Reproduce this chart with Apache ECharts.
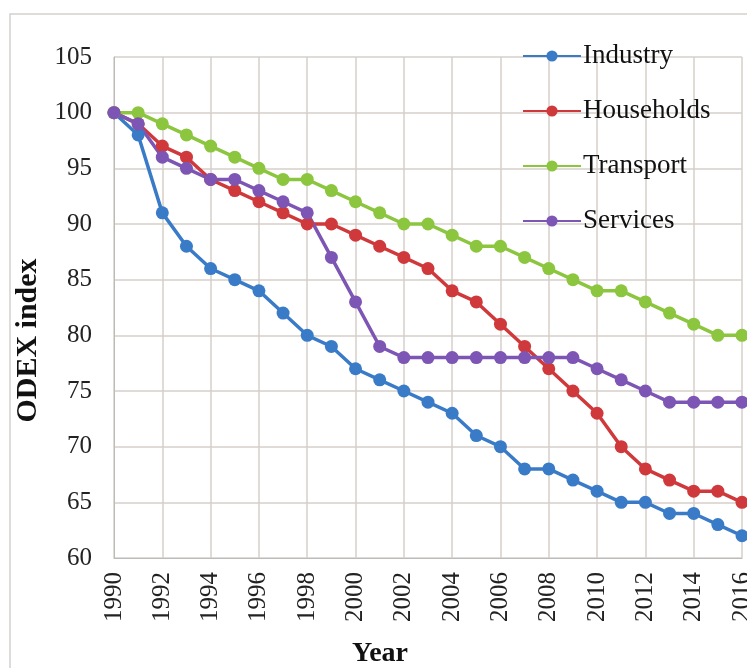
<!DOCTYPE html>
<html>
<head>
<meta charset="utf-8">
<script src="https://cdn.jsdelivr.net/npm/echarts@6/dist/echarts.min.js"></script>
<style>
  html, body { margin: 0; padding: 0; background: #fff; }
  #main { width: 747px; height: 668px; }
</style>
</head>
<body>
<div id="main"></div>
<script>
// years on the x axis
var years = ['1990','1991','1992','1993','1994','1995','1996','1997','1998','1999',
             '2000','2001','2002','2003','2004','2005','2006','2007','2008','2009',
             '2010','2011','2012','2013','2014','2015','2016'];

var industry   = [100,98,91,88,86,85,84,82,80,79,77,76,75,74,73,71,70,68,68,67,66,65,65,64,64,63,62];
var households = [100,99,97,96,94,93,92,91,90,90,89,88,87,86,84,83,81,79,77,75,73,70,68,67,66,66,65];
var transport  = [100,100,99,98,97,96,95,94,94,93,92,91,90,90,89,88,88,87,86,85,84,84,83,82,81,80,80];
var services   = [100,99,96,95,94,94,93,92,91,87,83,79,78,78,78,78,78,78,78,78,77,76,75,74,74,74,74];

var names  = ['Industry','Households','Transport','Services'];
var colors = ['#3A7BC8','#D0393C','#8CC63F','#7D55B5'];

var serif = '"Liberation Serif", "DejaVu Serif", serif';

var chart = echarts.init(document.getElementById('main'));

function mkSeries(name, data, col) {
    return {
        name: name,
        type: 'line',
        data: data,
        symbol: 'circle',
        symbolSize: 13,
        color: col,
        lineStyle: {width: 3.5, color: col},
        itemStyle: {color: col},
        animation: false
    };
}

var option = {
    backgroundColor: '#fff',
    graphic: [{
        type: 'rect', z: -1,
        shape: {x: 10, y: 14, width: 800, height: 700},
        style: {fill: 'none', stroke: '#d4d0cc', lineWidth: 1.5}
    }],
    legend: {
        orient: 'vertical',
        left: 517, top: 36,
        itemWidth: 58, itemHeight: 14,
        itemGap: 25,
        data: names,
        textStyle: {fontFamily: serif, fontSize: 27, color: '#111', lineHeight: 30, padding: [0,0,0,-3]}
    },
    grid: {left: 114, right: 5, top: 57, bottom: 110, outerBoundsMode: 'none'},
    xAxis: {
        type: 'category',
        data: years,
        boundaryGap: false,
        name: 'Year',
        nameLocation: 'middle',
        nameGap: 82,
        nameTextStyle: {fontFamily: serif, fontSize: 28, fontWeight: 'bold', color: '#111', padding: [0, 96, 0, 0]},
        axisLine: {lineStyle: {color: '#bbb'}},
        axisTick: {show: false},
        axisLabel: {
            interval: 1, rotate: 90, margin: 14,
            fontFamily: serif, fontSize: 25, color: '#222'
        },
        splitLine: {show: true, interval: 1, lineStyle: {color: '#d6cfc9', width: 1.5}}
    },
    yAxis: {
        type: 'value',
        min: 60, max: 105, interval: 5,
        name: 'ODEX index',
        nameLocation: 'middle',
        nameGap: 66,
        nameTextStyle: {fontFamily: serif, fontSize: 30, fontWeight: 'bold', color: '#111', padding: [0, 66, 0, 0]},
        axisLine: {show: true, lineStyle: {color: '#bbb'}},
        axisTick: {show: false},
        axisLabel: {margin: 22, fontFamily: serif, fontSize: 25, color: '#222'},
        splitLine: {show: true, lineStyle: {color: '#d6cfc9', width: 1.5}}
    },
    series: [
        mkSeries(names[0], industry, colors[0]),
        mkSeries(names[1], households, colors[1]),
        mkSeries(names[2], transport, colors[2]),
        mkSeries(names[3], services, colors[3])
    ]
};

chart.setOption(option);
</script>
</body>
</html>
